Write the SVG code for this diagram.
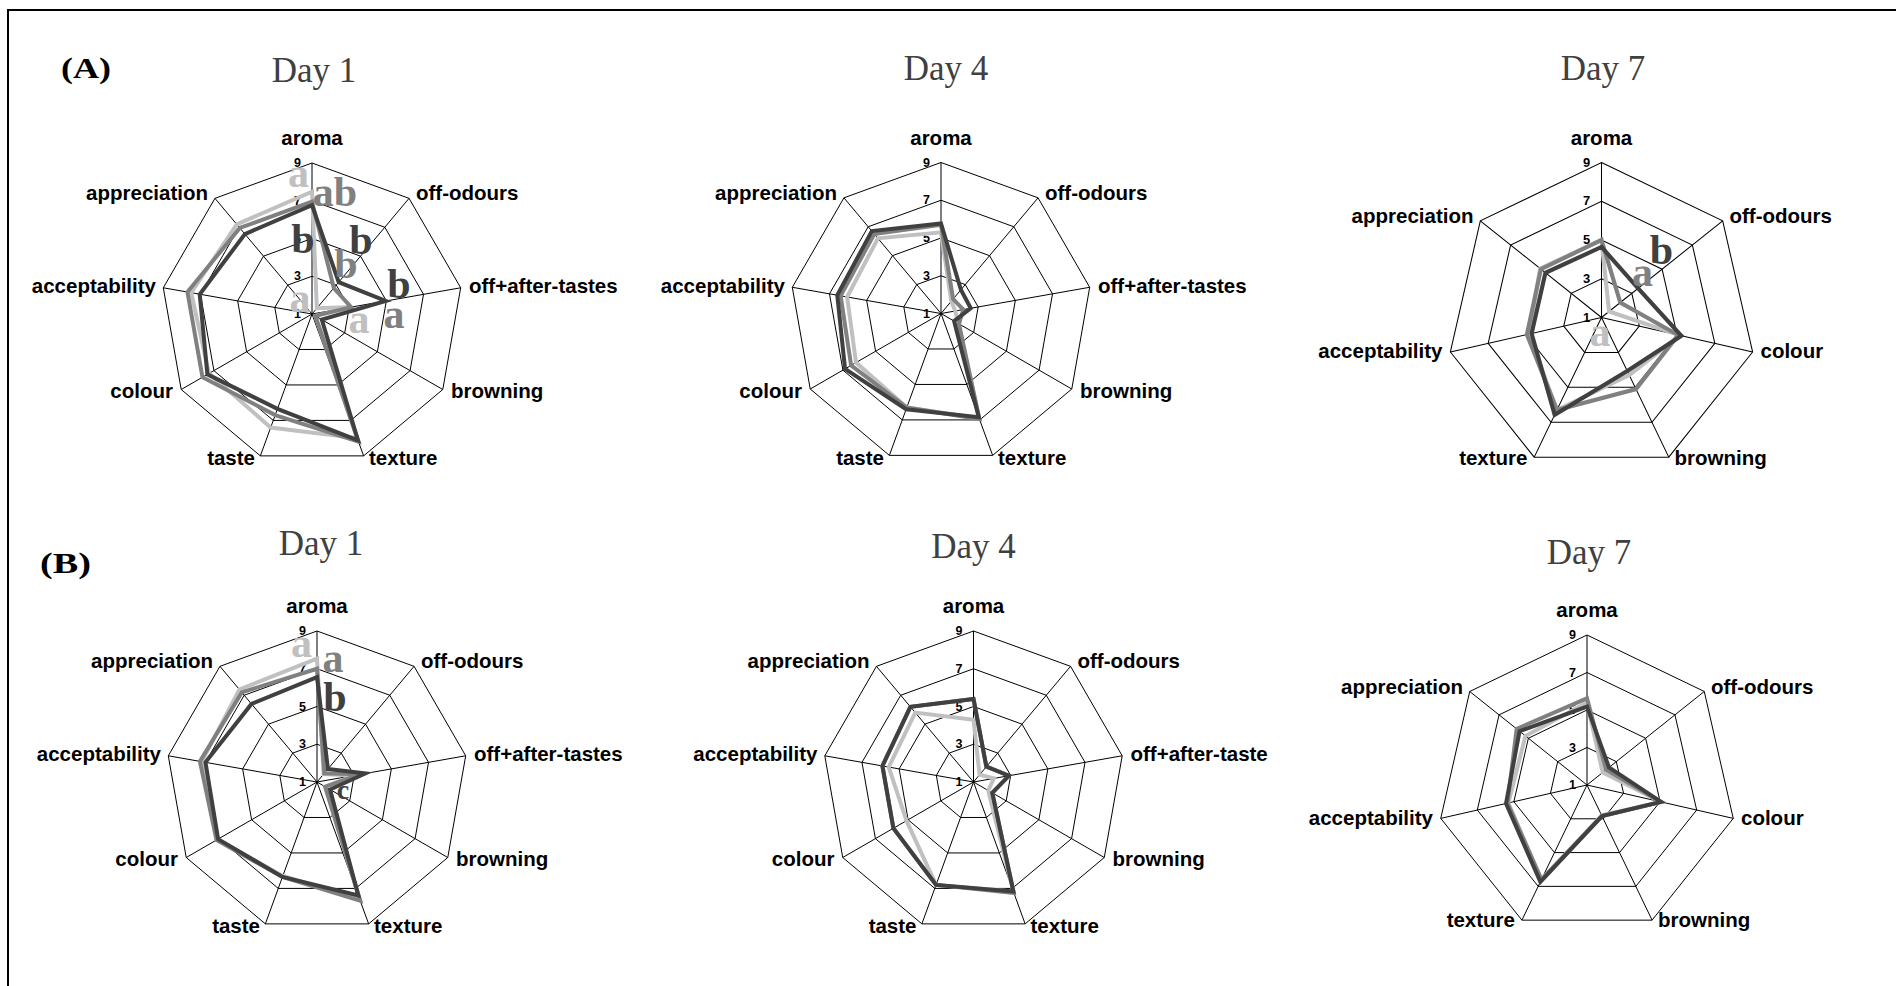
<svg xmlns="http://www.w3.org/2000/svg" xmlns:xlink="http://www.w3.org/1999/xlink" width="1896" height="986" viewBox="0 0 1896 986">
<style>
.ax{font-family:"Liberation Sans",Arial,sans-serif;font-weight:bold;font-size:20.5px;fill:#000}
.day{font-family:"Liberation Serif","Times New Roman",serif;font-size:35px;fill:#404040;text-anchor:middle}
.pl{font-family:"Liberation Serif","Times New Roman",serif;font-weight:bold;font-size:30px;fill:#000}
.sig{font-family:"Liberation Serif","Times New Roman",serif;font-weight:bold;font-size:42px;text-anchor:middle}
.s1{fill:none;stroke:#c0c0c0;stroke-width:4}
.s2{fill:none;stroke:#808080;stroke-width:4}
.s3{fill:none;stroke:#404040;stroke-width:4}
.e{text-anchor:end}.m{text-anchor:middle}
.c1{fill:#c0c0c0}.c2{fill:#808080}.c3{fill:#404040}
</style>
<defs>
<g id="grid9">
<g fill="none" stroke="#000" stroke-width="1">
<polygon points="0,-151 97.06,-115.67 148.7,-26.21 130.77,75.5 51.64,141.89 -51.64,141.89 -130.77,75.5 -148.7,-26.21 -97.06,-115.67"/>
<polygon points="0,-113.25 72.8,-86.75 111.53,-19.66 98.08,56.63 38.73,106.42 -38.73,106.42 -98.08,56.63 -111.53,-19.66 -72.8,-86.75"/>
<polygon points="0,-75.5 48.53,-57.83 74.35,-13.11 65.38,37.75 25.82,70.95 -25.82,70.95 -65.38,37.75 -74.35,-13.11 -48.53,-57.83"/>
<polygon points="0,-37.75 24.27,-28.92 37.18,-6.55 32.69,18.88 12.91,35.47 -12.91,35.47 -32.69,18.88 -37.18,-6.55 -24.27,-28.92"/>
<path d="M0,0L0,-151M0,0L97.06,-115.67M0,0L148.7,-26.21M0,0L130.77,75.5M0,0L51.64,141.89M0,0L-51.64,141.89M0,0L-130.77,75.5M0,0L-148.7,-26.21M0,0L-97.06,-115.67"/>
</g>
<g font-family="Liberation Sans, Arial, sans-serif" font-weight="bold" font-size="12.5" fill="#000" text-anchor="end">
<text x="-11" y="-147">9</text><text x="-11" y="-109.25">7</text><text x="-11" y="-71.5">5</text><text x="-11" y="-33.75">3</text><text x="-11" y="4">1</text>
</g>
</g>
<g id="grid7">
<g fill="none" stroke="#000" stroke-width="1">
<polygon points="0,-150 117.27,-93.53 146.24,33.38 65.09,135.15 -65.09,135.15 -146.24,33.38 -117.27,-93.53"/>
<polygon points="0,-112.5 87.95,-70.14 109.68,25.03 48.81,101.36 -48.81,101.36 -109.68,25.03 -87.95,-70.14"/>
<polygon points="0,-75 58.64,-46.76 73.12,16.69 32.54,67.58 -32.54,67.58 -73.12,16.69 -58.64,-46.76"/>
<polygon points="0,-37.5 29.32,-23.38 36.56,8.34 16.27,33.79 -16.27,33.79 -36.56,8.34 -29.32,-23.38"/>
<path d="M0,0L0,-150M0,0L117.27,-93.53M0,0L146.24,33.38M0,0L65.09,135.15M0,0L-65.09,135.15M0,0L-146.24,33.38M0,0L-117.27,-93.53"/>
</g>
<g font-family="Liberation Sans, Arial, sans-serif" font-weight="bold" font-size="12.5" fill="#000" text-anchor="end">
<text x="-11" y="-146">9</text><text x="-11" y="-108.5">7</text><text x="-11" y="-71">5</text><text x="-11" y="-33.5">3</text><text x="-11" y="4">1</text>
</g>
</g>
</defs>
<rect width="1896" height="986" fill="#fff"/>
<path id="frame" d="M8,986V10H1896" fill="none" stroke="#000" stroke-width="2"/>
<text class="pl" x="61" y="78" textLength="50" lengthAdjust="spacingAndGlyphs">(A)</text>
<text class="pl" x="40" y="573" textLength="51" lengthAdjust="spacingAndGlyphs">(B)</text>

<g id="A1" transform="translate(312,314)">
<text class="day" x="2" y="-232">Day 1</text>
<use href="#grid9"/>
<text class="ax m" x="0" y="-169">aroma</text>
<text class="ax" x="104" y="-114">off-odours</text>
<text class="ax" x="157" y="-21">off+after-tastes</text>
<text class="ax" x="139" y="84">browning</text>
<text class="ax" x="57" y="151">texture</text>
<text class="ax e" x="-57" y="151">taste</text>
<text class="ax e" x="-139" y="84">colour</text>
<text class="ax e" x="-156" y="-21">acceptability</text>
<text class="ax e" x="-104" y="-114">appreciation</text>
<polygon class="s1" points="0,-122.3 4.85,-5.78 39.96,-7.04 3.27,1.89 45.19,124.16 -41.31,113.52 -102.98,59.46 -120.82,-21.3 -75.23,-89.64"/>
<polygon class="s2" points="0,-112.31 21.84,-26.03 39.04,-6.88 3.27,1.89 46.48,127.7 -36.8,101.1 -109.52,63.23 -124.54,-21.95 -72.19,-86.03"/>
<polygon class="s3" points="0,-108.91 26.7,-31.81 73.79,-13.01 9.81,5.66 45.96,126.29 -34.54,94.89 -104.61,60.4 -112.27,-19.79 -67.1,-79.95"/>
<text class="sig c1" x="-13.5" y="-127">a</text>
<text class="sig c2" x="23" y="-108">ab</text>
<text class="sig c3" x="-9" y="-61">b</text>
<text class="sig c3" x="49" y="-60">b</text>
<text class="sig c2" x="34" y="-36">b</text>
<text class="sig c3" x="87" y="-16">b</text>
<text class="sig c1" x="-12" y="-2">a</text>
<text class="sig c1" x="47" y="19">a</text>
<text class="sig c2" x="82" y="14">a</text>
</g>

<g id="A4" transform="translate(941,313.5)">
<text class="day" x="5" y="-233.5">Day 4</text>
<use href="#grid9"/>
<text class="ax m" x="0" y="-169">aroma</text>
<text class="ax" x="104" y="-114">off-odours</text>
<text class="ax" x="157" y="-21">off+after-tastes</text>
<text class="ax" x="139" y="84">browning</text>
<text class="ax" x="57" y="151">texture</text>
<text class="ax e" x="-57" y="151">taste</text>
<text class="ax e" x="-139" y="84">colour</text>
<text class="ax e" x="-156" y="-21">acceptability</text>
<text class="ax e" x="-104" y="-114">appreciation</text>
<polygon class="s1" points="0,-81.16 10.31,-12.29 14.31,-2.52 17.16,9.91 38.09,104.65 -34.21,94.01 -85,49.08 -93.87,-16.55 -63.09,-75.18"/>
<polygon class="s2" points="0,-88.71 12.13,-14.46 22.31,-3.93 17.98,10.38 38.41,105.54 -34.21,94.01 -89.9,51.91 -100.38,-17.69 -66.73,-79.52"/>
<polygon class="s3" points="0,-90.03 19.9,-23.71 29.74,-5.24 13.08,7.55 37.76,103.76 -34.86,95.78 -95.95,55.4 -103.72,-18.28 -69.16,-82.41"/>
</g>

<g id="A7" transform="translate(1601.5,317.5)">
<text class="day" x="1.5" y="-237.5">Day 7</text>
<g transform="scale(1.0333)">
<use href="#grid7"/>
<polygon class="s1" points="0,-75 7.33,-5.85 75.86,17.31 26.85,55.75 -43.12,89.54 -70.38,16.06 -59.37,-47.35"/>
<polygon class="s2" points="0,-75 18.18,-14.5 74.22,16.94 33.36,69.27 -43.12,89.54 -72.2,16.48 -58.64,-46.76"/>
<polygon class="s3" points="0,-68.25 35.48,-28.29 77.32,17.65 24.9,51.7 -45.32,94.1 -67.64,15.44 -54.24,-43.26"/>
</g>
<text class="ax m" x="0" y="-173">aroma</text>
<text class="ax" x="128" y="-95">off-odours</text>
<text class="ax" x="159" y="40">colour</text>
<text class="ax" x="73" y="147">browning</text>
<text class="ax e" x="-74" y="147">texture</text>
<text class="ax e" x="-159" y="40">acceptability</text>
<text class="ax e" x="-128" y="-95">appreciation</text>
<text class="sig c1" x="-1.5" y="28">a</text>
<text class="sig c2" x="41" y="-32">a</text>
<text class="sig c3" x="60" y="-54">b</text>
</g>

<g id="B1" transform="translate(317,782)">
<text class="day" x="4" y="-227">Day 1</text>
<use href="#grid9"/>
<text class="ax m" x="0" y="-169">aroma</text>
<text class="ax" x="104" y="-114">off-odours</text>
<text class="ax" x="157" y="-21">off+after-tastes</text>
<text class="ax" x="139" y="84">browning</text>
<text class="ax" x="57" y="151">texture</text>
<text class="ax e" x="-57" y="151">taste</text>
<text class="ax e" x="-139" y="84">colour</text>
<text class="ax e" x="-156" y="-21">acceptability</text>
<text class="ax e" x="-104" y="-114">appreciation</text>
<text class="sig c3" x="26" y="17" style="font-size:28px">c</text>
<polygon class="s1" points="0,-123.44 6.67,-7.95 36.62,-6.45 8.17,4.72 42.61,117.07 -34.21,94.01 -99.71,57.57 -115.25,-20.32 -77.65,-92.53"/>
<polygon class="s2" points="0,-113.25 7.28,-8.68 43.31,-7.63 8.17,4.72 43.25,118.83 -34.54,94.89 -100.53,58.04 -117.1,-20.64 -75.23,-89.64"/>
<polygon class="s3" points="0,-104.95 10.92,-13.01 48.33,-8.52 13.08,7.55 41.31,113.52 -34.54,94.89 -98.89,57.1 -111.53,-19.66 -65.52,-78.08"/>
<text class="sig c1" x="-15.5" y="-125">a</text>
<text class="sig c2" x="16" y="-110">a</text>
<text class="sig c3" x="18" y="-71">b</text>
</g>

<g id="B4" transform="translate(973.5,782)">
<text class="day" x="0" y="-224">Day 4</text>
<use href="#grid9"/>
<text class="ax m" x="0" y="-169">aroma</text>
<text class="ax" x="104" y="-114">off-odours</text>
<text class="ax" x="157" y="-21">off+after-taste</text>
<text class="ax" x="139" y="84">browning</text>
<text class="ax" x="57" y="151">texture</text>
<text class="ax e" x="-57" y="151">taste</text>
<text class="ax e" x="-139" y="84">colour</text>
<text class="ax e" x="-156" y="-21">acceptability</text>
<text class="ax e" x="-104" y="-114">appreciation</text>
<polygon class="s1" points="0,-62.29 6.07,-7.23 20.44,-3.6 14.71,8.5 39.83,109.44 -37.44,102.88 -67.02,38.7 -84.76,-14.94 -58.24,-69.4"/>
<polygon class="s2" points="0,-83.05 12.86,-15.33 35.32,-6.23 18.8,10.86 40.35,110.86 -37.44,102.88 -80.1,46.25 -91.08,-16.06 -63.09,-75.18"/>
<polygon class="s3" points="0,-83.05 12.86,-15.33 35.32,-6.23 18.8,10.86 39.83,109.44 -37.44,102.88 -80.1,46.25 -91.08,-16.06 -63.09,-75.18"/>
</g>

<g id="B7" transform="translate(1587,785)">
<text class="day" x="2" y="-221">Day 7</text>
<use href="#grid7"/>
<text class="ax m" x="0" y="-168">aroma</text>
<text class="ax" x="124" y="-91">off-odours</text>
<text class="ax" x="154" y="40">colour</text>
<text class="ax" x="71" y="142">browning</text>
<text class="ax e" x="-72" y="142">texture</text>
<text class="ax e" x="-154" y="40">acceptability</text>
<text class="ax e" x="-124" y="-91">appreciation</text>
<polygon class="s1" points="0,-82.5 15.68,-12.51 74.03,16.9 14.64,30.41 -45.56,94.61 -78.6,17.94 -61.57,-49.1"/>
<polygon class="s2" points="0,-86.63 19.06,-15.2 74.03,16.9 14.97,31.08 -45.56,94.61 -79.51,18.15 -70.36,-56.12"/>
<polygon class="s3" points="0,-78.38 21.99,-17.54 74.03,16.9 14.97,31.08 -46.62,96.8 -80.98,18.48 -67.43,-53.78"/>
</g>
</svg>
